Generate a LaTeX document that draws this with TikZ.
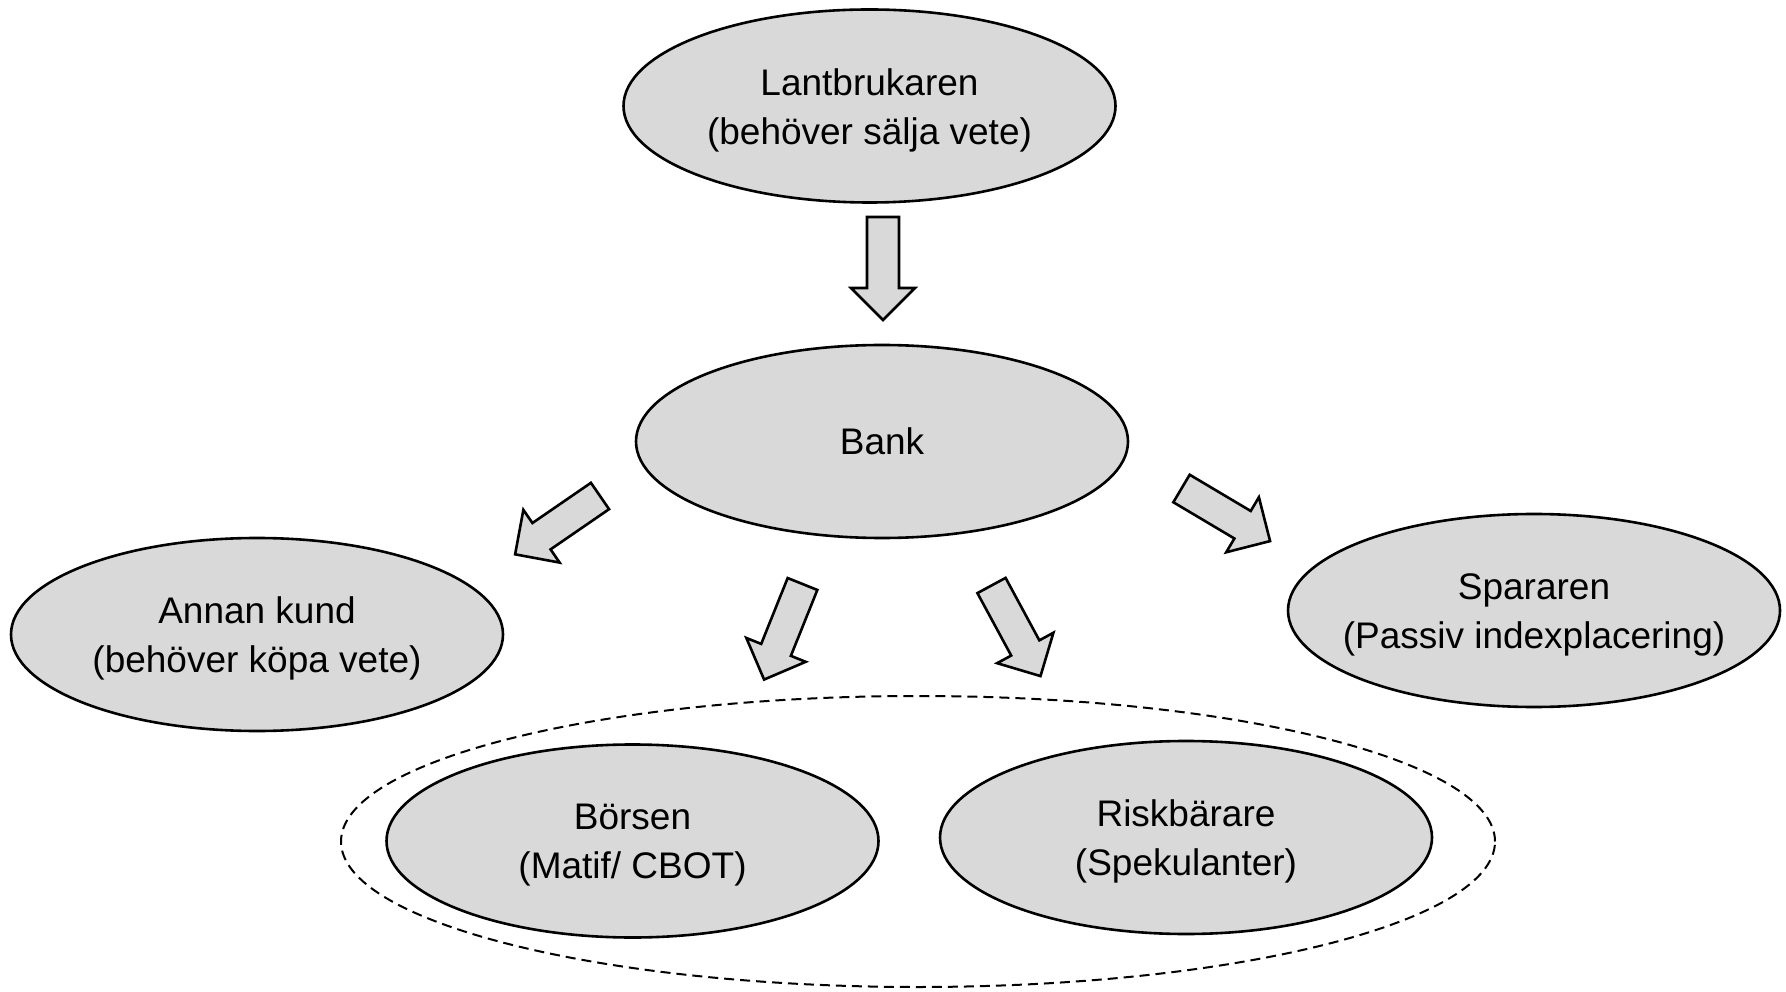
\documentclass[tikz,border=0pt]{standalone}
\usepackage{fontspec}
\setmainfont{Liberation Sans}
\usetikzlibrary{shapes.geometric}
\definecolor{fillgray}{RGB}{217,217,217}
\tikzset{
  ell/.style={ellipse, draw=black, line width=1.3pt, fill=fillgray, minimum width=246pt, minimum height=96.5pt, inner sep=0pt},
  txt/.style={align=center, font=\fontsize{18.5}{24.5}\selectfont, inner sep=0pt},
  txttwo/.style={txt, yshift=-2.2pt},
  groupell/.style={ellipse, draw=black, line width=1pt, dash pattern=on 5pt off 3pt, minimum width=577pt, minimum height=145.5pt, inner sep=0pt},
  arrowshape/.style={draw=black, line width=1.3pt, fill=fillgray, line join=miter},
  blockarrow/.pic={\path[arrowshape] (0,-16) -- (71,-16) -- (71,-32) -- (103,0) -- (71,32) -- (71,16) -- (0,16) -- cycle;}
}
\begin{document}
\begin{tikzpicture}[x=0.5pt,y=0.5pt]
\useasboundingbox (0,0) rectangle (1786,991);
% dashed group
\node[groupell] (group) at (918,149.5) {};
% ellipses
\node[ell] (lant) at (869.5,885) {};
\node[txttwo] (lantT) at (lant) {Lantbrukaren\\(behöver sälja vete)};
\node[ell] (bank) at (882,549.5) {};
\node[txt] (bankT) at (bank) {Bank};
\node[ell] (annan) at (257,356.5) {};
\node[txttwo] (annanT) at (annan) {Annan kund\\(behöver köpa vete)};
\node[ell] (spar) at (1534,380.5) {};
\node[txttwo] (sparT) at (spar) {Spararen\\(Passiv indexplacering)};
\node[ell] (bors) at (632.5,150) {};
\node[txttwo] (borsT) at (bors) {Börsen\\(Matif/ CBOT)};
\node[ell] (risk) at (1186,153.5) {};
\node[txttwo] (riskT) at (risk) {Riskbärare\\(Spekulanter)};
% block arrows
\pic[rotate=-90] at (883,774) {blockarrow};
\pic[rotate=214.5] at (600,495) {blockarrow};
\pic[rotate=-30.7] at (1181.5,502.5) {blockarrow};
\pic[rotate=248.1] at (802.5,407) {blockarrow};
\pic[rotate=-61.6] at (991.5,405.5) {blockarrow};
\end{tikzpicture}
\end{document}
